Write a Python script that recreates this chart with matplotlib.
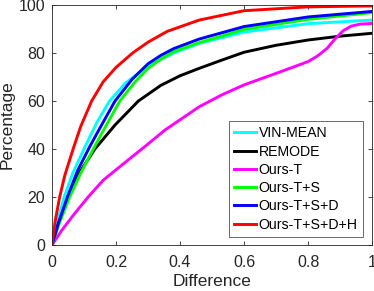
import numpy as np
import matplotlib.pyplot as plt

plt.rcParams['font.family'] = ['Liberation Sans', 'DejaVu Sans']

# values
x_red = [0, 0.01, 0.024, 0.04, 0.066, 0.09, 0.124, 0.16, 0.2, 0.252, 0.3, 0.36, 0.46, 0.6, 0.8, 1.0]
y_red = [0, 10, 20, 29, 40, 49.5, 60, 68, 74, 80, 84.5, 89, 93.7, 97.6, 99.2, 99.6]

x_cyan = [0, 0.015, 0.038, 0.065, 0.1, 0.14, 0.18, 0.23, 0.3, 0.38, 0.46, 0.6, 0.8, 1.0]
y_cyan = [0, 9, 20, 30, 40, 51, 60, 67.5, 74.5, 80, 84, 88.7, 92.2, 93.7]

x_blue = [0, 0.02, 0.048, 0.08, 0.118, 0.155, 0.197, 0.25, 0.3, 0.34, 0.38, 0.46, 0.6, 0.8, 1.0]
y_blue = [0, 9, 20, 31, 41, 50, 60, 69, 75.5, 79, 81.8, 85.8, 91, 95, 97.3]

x_green = [0, 0.02, 0.055, 0.09, 0.129, 0.17, 0.212, 0.26, 0.3, 0.34, 0.38, 0.46, 0.6, 0.8, 1.0]
y_green = [0, 8, 20, 30, 40, 50, 60, 68, 73.5, 77.5, 80.5, 84.3, 89.8, 94, 96.8]

x_black = [0, 0.02, 0.05, 0.09, 0.134, 0.197, 0.27, 0.34, 0.4, 0.46, 0.53, 0.6, 0.7, 0.8, 0.9, 1.0]
y_black = [0, 9, 20, 31, 40, 50, 60, 66.5, 70.5, 73.6, 77, 80.3, 83.2, 85.4, 87, 88.2]

x_mag = [0, 0.03, 0.07, 0.113, 0.16, 0.22, 0.29, 0.354, 0.46, 0.53, 0.6, 0.7, 0.8,
         0.83, 0.86, 0.885, 0.91, 0.935, 0.962, 1.0]
y_mag = [0, 6, 13, 20, 27, 33.5, 41, 48, 57.6, 62.5, 66.7, 71.5, 76.4,
         78.8, 82, 86, 89.3, 91.2, 92, 92.3]

series = [
    (x_cyan, y_cyan, 'cyan', 'VIN-MEAN'),
    (x_black, y_black, 'black', 'REMODE'),
    (x_mag, y_mag, 'magenta', 'Ours-T'),
    (x_green, y_green, '#00ff00', 'Ours-T+S'),
    (x_blue, y_blue, 'blue', 'Ours-T+S+D'),
    (x_red, y_red, 'red', 'Ours-T+S+D+H'),
]

fig = plt.figure(figsize=(3.74, 2.91), dpi=100)
ax = fig.add_axes([0.139, 0.158, 0.856, 0.825])
for xs, ys, c, lab in series:
    ax.plot(xs, ys, color=c, lw=2.1, label=lab, solid_joinstyle='round')

grey = '#262626'
ax.set_xlim(0, 1)
ax.set_ylim(0, 100)
ax.set_xticks([0, 0.2, 0.4, 0.6, 0.8, 1])
ax.set_xticklabels(['0', '0.2', '0.4', '0.6', '0.8', '1'])
ax.set_yticks([0, 20, 40, 60, 80, 100])
ax.tick_params(direction='in', top=True, right=True, labelsize=11.5, colors=grey, length=3, width=0.6)
ax.tick_params(axis='x', pad=7)
ax.tick_params(axis='y', pad=5)
for s in ax.spines.values():
    s.set_color(grey)
    s.set_linewidth(0.6)
ax.set_xlabel('Difference', fontsize=12.5, color=grey, labelpad=3)
ax.set_ylabel('Percentage', fontsize=12.5, color=grey, labelpad=3)

leg = ax.legend(loc='lower right', bbox_to_anchor=(0.970, 0.035), borderaxespad=0,
                fontsize=10.2, frameon=True, fancybox=False, edgecolor=grey,
                handlelength=1.6, handletextpad=0.15, labelspacing=0.3, borderpad=0.35)
leg.get_frame().set_linewidth(0.6)

fig.savefig('out.png', dpi=100)
